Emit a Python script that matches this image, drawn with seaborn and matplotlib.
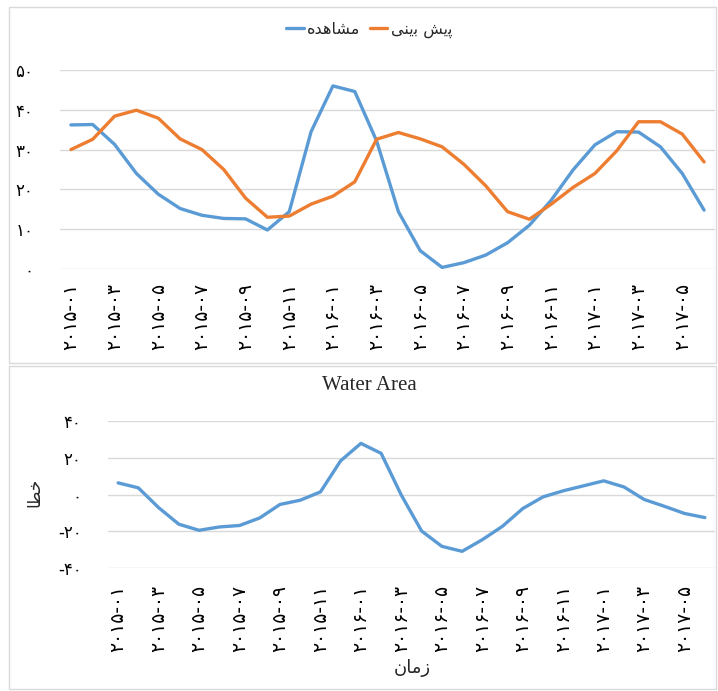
import matplotlib
matplotlib.use("Agg")
from matplotlib import pyplot as plt
import matplotlib.patches as mpatches
import pandas as pd
import seaborn as sns

# monthly data 2015-01 .. 2017-06
months = ["2015-01", "2015-02", "2015-03", "2015-04", "2015-05", "2015-06",
          "2015-07", "2015-08", "2015-09", "2015-10", "2015-11", "2015-12",
          "2016-01", "2016-02", "2016-03", "2016-04", "2016-05", "2016-06",
          "2016-07", "2016-08", "2016-09", "2016-10", "2016-11", "2016-12",
          "2017-01", "2017-02", "2017-03", "2017-04", "2017-05", "2017-06"]
observed = [36.2, 36.3, 31.3, 24.0, 18.8, 15.2, 13.5, 12.7, 12.6, 9.8,
            14.4, 34.5, 46.0, 44.6, 32.2, 14.4, 4.6, 0.4, 1.6, 3.5,
            6.6, 11.0, 17.3, 24.9, 31.2, 34.5, 34.4, 30.7, 24.0, 14.8]
predicted = [30.0, 32.6, 38.4, 39.9, 37.9, 32.7, 30.0, 25.0, 17.8, 13.0,
             13.3, 16.3, 18.3, 21.9, 32.6, 34.3, 32.7, 30.7, 26.3, 20.9,
             14.4, 12.5, 16.3, 20.5, 24.0, 29.7, 37.0, 37.0, 33.9, 26.9]
error = [6.3, 3.6, -7.1, -16.1, -19.4, -17.6, -16.8, -12.7, -5.4, -3.1,
         1.4, 18.3, 27.7, 22.3, -0.4, -19.8, -28.1, -30.8, -24.5, -17.2,
         -7.6, -1.3, 2.0, 4.7, 7.4, 4.1, -2.7, -6.4, -10.3, -12.5]
top_ticks = [0, 10, 20, 30, 40, 50]
bottom_ticks = [-40, -20, 0, 20, 40]

# Persian labels, pre-shaped (presentation forms, visual order)
obs_label = "\uFEE9\uFEAA\uFEEB\uFE8E\uFEB8\uFEE3"           # مشاهده
pred_label = "\uFBFD\uFEE8\uFBFE\uFE91 \uFEB6\uFBFE\uFB58"   # پیش بینی
x_label = "\uFEE5\uFE8E\uFEE3\uFEAF"                         # زمان
y_label = "\uFE8E\uFEC4\uFEA7"                               # خطا

fa = str.maketrans("0123456789", "۰۱۲۳۴۵۶۷۸۹")
BLUE = "#5B9BD5"
ORANGE = "#ED7D31"
GRID = "#D9D9D9"

sns.set_theme(style="white")
plt.rcParams["font.family"] = ["DejaVu Sans"]

W, H = 718, 691
fig = plt.figure(figsize=(W / 100, H / 100), dpi=100)


def box(x0, y0, x1, y1):
    return [x0 / W, 1 - y1 / H, (x1 - x0) / W, (y1 - y0) / H]


# chart frames
for y0, y1 in [(7, 363), (366, 689)]:
    fig.patches.append(mpatches.Rectangle((9 / W, 1 - y1 / H), (716 - 9) / W, (y1 - y0) / H,
                                          transform=fig.transFigure, fill=False,
                                          edgecolor=GRID, lw=1))

df = pd.DataFrame({"month": months, "observed": observed,
                   "predicted": predicted, "error": error})
df["i"] = range(len(df))
tick_pos = list(range(0, len(months), 2))
tick_lab = [months[i].translate(fa) for i in tick_pos]


def style(ax, yticks, pad_y, pad_x):
    ax.set_xlim(-0.5, len(months) - 0.5)
    ax.set_ylim(yticks[0], yticks[-1])
    ax.set_yticks(yticks)
    ax.set_yticklabels([str(v).translate(fa) for v in yticks], fontsize=12, color="black")
    ax.set_xticks(tick_pos)
    ax.set_xticklabels(tick_lab, rotation=90, fontsize=13.5, color="black")
    ax.tick_params(axis="y", length=0, pad=pad_y)
    ax.tick_params(axis="x", length=0, pad=pad_x)
    ax.yaxis.grid(True, color=GRID, lw=1)
    ax.set_axisbelow(True)
    for s in ax.spines.values():
        s.set_visible(False)
    ax.set_xlabel("")
    ax.set_ylabel("")


# top chart
ax1 = fig.add_axes(box(60, 70, 715, 269))
sns.lineplot(data=df, x="i", y="observed", color=BLUE, lw=2.4, ax=ax1, label=obs_label)
sns.lineplot(data=df, x="i", y="predicted", color=ORANGE, lw=2.4, ax=ax1, label=pred_label)
style(ax1, top_ticks, 19, 10)
ax1.legend(loc="center", bbox_to_anchor=(369 / W, 1 - 30 / H), bbox_transform=fig.transFigure,
           ncol=2, frameon=False, fontsize=11.5, handlelength=1.1, handletextpad=0.2,
           columnspacing=0.6, borderpad=0)

# bottom chart
ax2 = fig.add_axes(box(108, 420.7, 715, 568.3))
sns.lineplot(data=df, x="i", y="error", color=BLUE, lw=2.4, ax=ax2)
style(ax2, bottom_ticks, 19, 12)

fig.text(369 / W, 1 - 386 / H, "Water Area", family="Liberation Serif", fontsize=15,
         ha="center", va="center")
fig.text(34 / W, 1 - 492 / H, y_label, rotation=90, fontsize=12, ha="center", va="center")
fig.text(412 / W, 1 - 668 / H, x_label, fontsize=13, ha="center", va="center")

fig.savefig("out.png", dpi=100)
